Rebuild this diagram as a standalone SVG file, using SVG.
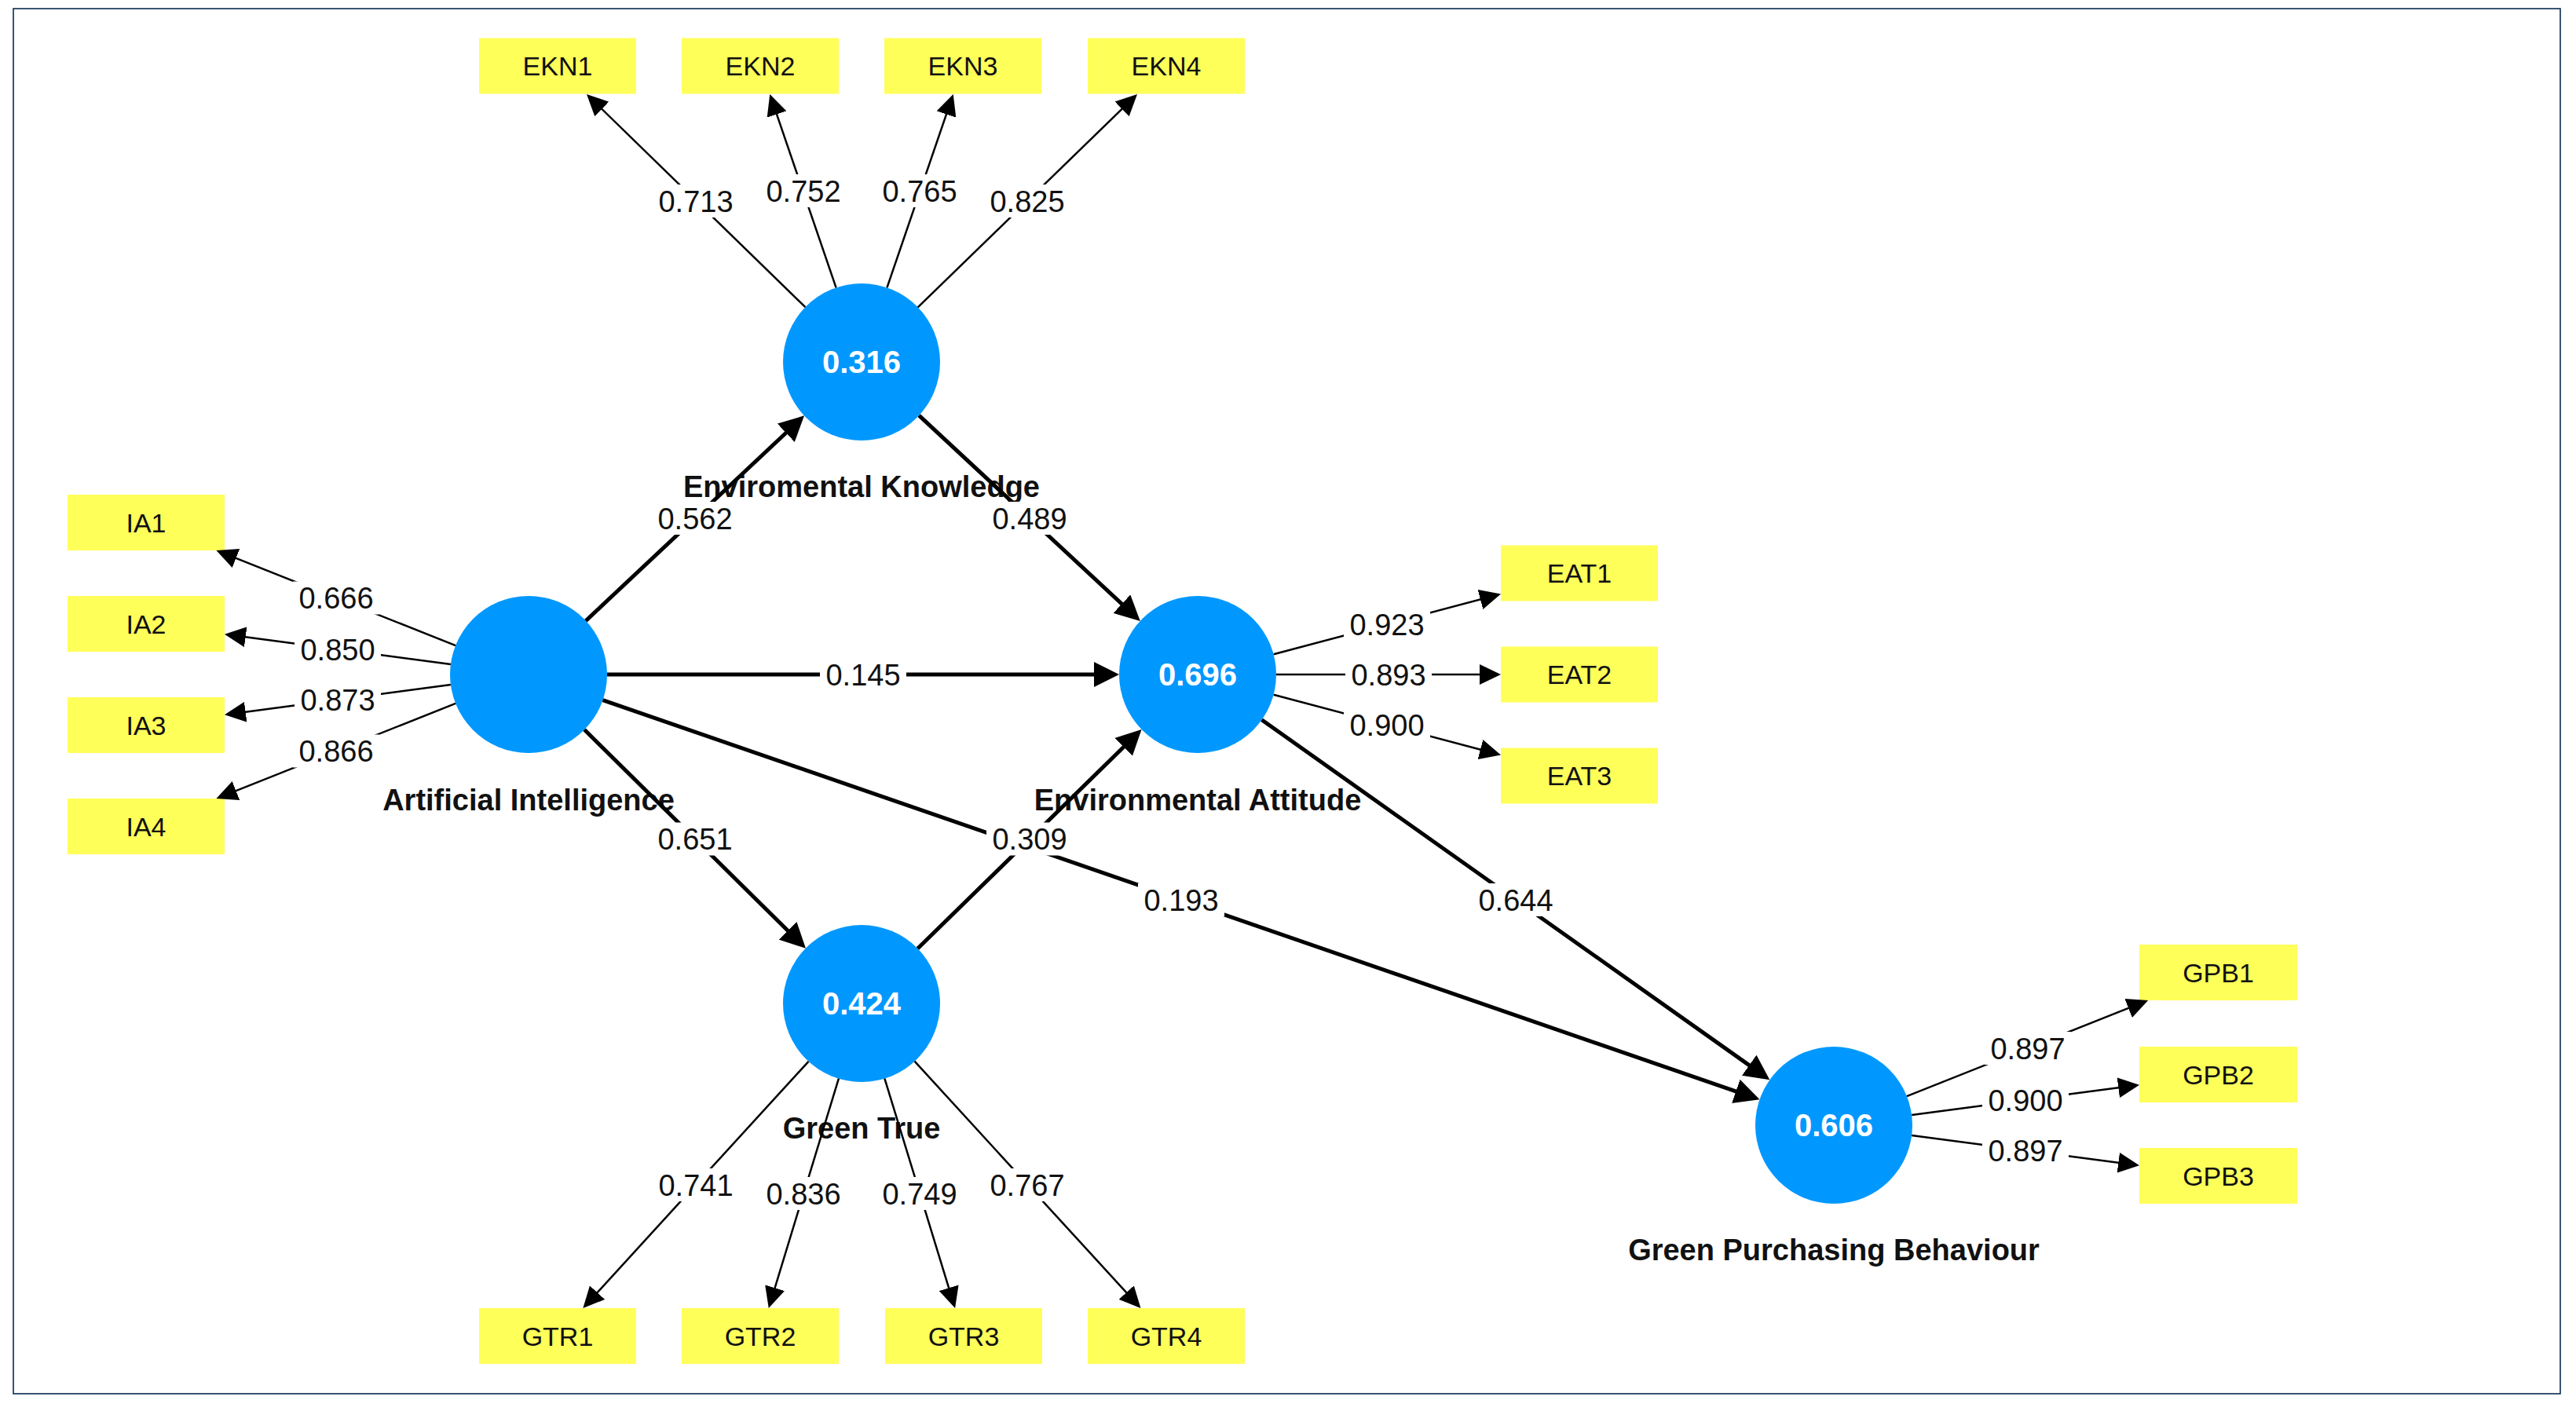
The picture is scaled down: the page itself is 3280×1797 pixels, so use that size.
<svg xmlns="http://www.w3.org/2000/svg" width="3280" height="1797" viewBox="0 0 3280 1797">
<defs>
<style>
.bg{fill:#ffffff}
.frame{fill:none;stroke:#0b2b52;stroke-width:1.6}
.lv{fill:#0098fe}
.lvv{font-family:"Liberation Sans",Arial,sans-serif;font-size:40px;font-weight:bold;fill:#ffffff;text-anchor:middle}
.lvn{font-family:"Liberation Sans",Arial,sans-serif;font-size:38px;font-weight:bold;fill:#111111;text-anchor:middle}
.ind{fill:#ffff5a}
.indt{font-family:"Liberation Sans",Arial,sans-serif;font-size:34px;fill:#111111;text-anchor:middle}
.path{stroke:#000;stroke-width:5;fill:none}
.load{stroke:#000;stroke-width:2.5;fill:none}
.pa{marker-end:url(#ah)}
.la{marker-end:url(#al)}
.lblbg{fill:#ffffff}
.lbl{font-family:"Liberation Sans",Arial,sans-serif;font-size:38px;fill:#111111;text-anchor:middle}
</style>
<marker id="ah" markerUnits="userSpaceOnUse" markerWidth="32" markerHeight="32" viewBox="0 0 32 32" refX="22" refY="16" orient="auto">
<path d="M0,0 L32,16 L0,32 Z" fill="#000"/>
</marker>
<marker id="al" markerUnits="userSpaceOnUse" markerWidth="27" markerHeight="26" viewBox="0 0 27 26" refX="21" refY="13" orient="auto">
<path d="M0,0 L27,13 L0,26 Z" fill="#000"/>
</marker>
</defs>
<rect class="bg" x="0" y="0" width="3280" height="1797"/>
<rect class="frame" x="17" y="11" width="3243" height="1764"/>

<g id="node-EK">
<circle class="lv" cx="1097" cy="461" r="100"/>
<text class="lvv" x="1097" y="475">0.316</text>
<text class="lvn" x="1097" y="633">Enviromental Knowledge</text>
</g>
<g id="node-AI">
<circle class="lv" cx="673" cy="859" r="100"/>
<text class="lvn" x="673" y="1032">Artificial Intelligence</text>
</g>
<g id="node-EA">
<circle class="lv" cx="1525" cy="859" r="100"/>
<text class="lvv" x="1525" y="873">0.696</text>
<text class="lvn" x="1525" y="1032">Environmental Attitude</text>
</g>
<g id="node-GT">
<circle class="lv" cx="1097" cy="1278" r="100"/>
<text class="lvv" x="1097" y="1292">0.424</text>
<text class="lvn" x="1097" y="1450">Green True</text>
</g>
<g id="node-GPB">
<circle class="lv" cx="2335" cy="1433" r="100"/>
<text class="lvv" x="2335" y="1447">0.606</text>
<text class="lvn" x="2335" y="1605">Green Purchasing Behaviour</text>
</g>

<g id="node-EKN1"><rect class="ind" x="610" y="48.5" width="200" height="71"/><text class="indt" x="710" y="96">EKN1</text></g>
<g id="node-EKN2"><rect class="ind" x="868" y="48.5" width="200" height="71"/><text class="indt" x="968" y="96">EKN2</text></g>
<g id="node-EKN3"><rect class="ind" x="1126" y="48.5" width="200" height="71"/><text class="indt" x="1226" y="96">EKN3</text></g>
<g id="node-EKN4"><rect class="ind" x="1385" y="48.5" width="200" height="71"/><text class="indt" x="1485" y="96">EKN4</text></g>

<g id="node-IA1"><rect class="ind" x="86" y="630" width="200" height="71"/><text class="indt" x="186" y="677.5">IA1</text></g>
<g id="node-IA2"><rect class="ind" x="86" y="759" width="200" height="71"/><text class="indt" x="186" y="806.5">IA2</text></g>
<g id="node-IA3"><rect class="ind" x="86" y="888" width="200" height="71"/><text class="indt" x="186" y="935.5">IA3</text></g>
<g id="node-IA4"><rect class="ind" x="86" y="1017" width="200" height="71"/><text class="indt" x="186" y="1064.5">IA4</text></g>

<g id="node-EAT1"><rect class="ind" x="1911" y="694.5" width="200" height="71"/><text class="indt" x="2011" y="742">EAT1</text></g>
<g id="node-EAT2"><rect class="ind" x="1911" y="823.5" width="200" height="71"/><text class="indt" x="2011" y="871">EAT2</text></g>
<g id="node-EAT3"><rect class="ind" x="1911" y="952.5" width="200" height="71"/><text class="indt" x="2011" y="1000">EAT3</text></g>

<g id="node-GTR1"><rect class="ind" x="610" y="1666" width="200" height="71"/><text class="indt" x="710" y="1713.5">GTR1</text></g>
<g id="node-GTR2"><rect class="ind" x="868" y="1666" width="200" height="71"/><text class="indt" x="968" y="1713.5">GTR2</text></g>
<g id="node-GTR3"><rect class="ind" x="1127" y="1666" width="200" height="71"/><text class="indt" x="1227" y="1713.5">GTR3</text></g>
<g id="node-GTR4"><rect class="ind" x="1385" y="1666" width="200" height="71"/><text class="indt" x="1485" y="1713.5">GTR4</text></g>

<g id="node-GPB1"><rect class="ind" x="2724" y="1203" width="201" height="71"/><text class="indt" x="2824.5" y="1250.5">GPB1</text></g>
<g id="node-GPB2"><rect class="ind" x="2724" y="1333" width="201" height="71"/><text class="indt" x="2824.5" y="1380.5">GPB2</text></g>
<g id="node-GPB3"><rect class="ind" x="2724" y="1462" width="201" height="71"/><text class="indt" x="2824.5" y="1509.5">GPB3</text></g>

<g id="connectors">
<line class="path pa" x1="745.9" y1="790.6" x2="1016.8" y2="536.2"/>
<line class="path pa" x1="1170.2" y1="529.1" x2="1444.5" y2="784.1"/>
<line class="path pa" x1="773" y1="859" x2="1415" y2="859"/>
<line class="path pa" x1="744.1" y1="929.3" x2="1018.8" y2="1200.7"/>
<line class="path pa" x1="1168.5" y1="1208" x2="1446.4" y2="936"/>
<line class="path pa" x1="767.5" y1="891.6" x2="2231.1" y2="1397.1"/>
<line class="path pa" x1="1606.6" y1="916.8" x2="2245.2" y2="1369.4"/>

<line class="load la" x1="1025.4" y1="391.2" x2="751.3" y2="124.2"/>
<line class="load la" x1="1064.6" y1="366.4" x2="982.2" y2="125.7"/>
<line class="load la" x1="1129.4" y1="366.4" x2="1211.8" y2="125.7"/>
<line class="load la" x1="1168.7" y1="391.3" x2="1443.7" y2="124.2"/>

<line class="load la" x1="580.1" y1="822.1" x2="281" y2="703.2"/>
<line class="load la" x1="573.9" y1="845.9" x2="291.9" y2="808.5"/>
<line class="load la" x1="573.9" y1="872.1" x2="291.9" y2="909.5"/>
<line class="load la" x1="580.1" y1="895.9" x2="281" y2="1014.8"/>

<line class="load la" x1="1621.7" y1="833.3" x2="1905.2" y2="758"/>
<line class="load la" x1="1625" y1="859" x2="1905" y2="859"/>
<line class="load la" x1="1621.7" y1="884.7" x2="1905.2" y2="960"/>

<line class="load la" x1="1029.5" y1="1351.8" x2="746.4" y2="1661.6"/>
<line class="load la" x1="1067.9" y1="1373.7" x2="980.5" y2="1660.3"/>
<line class="load la" x1="1126.4" y1="1373.6" x2="1214.3" y2="1660.3"/>
<line class="load la" x1="1164.6" y1="1351.7" x2="1448.4" y2="1661.6"/>

<line class="load la" x1="2427.9" y1="1396.1" x2="2729.6" y2="1276.2"/>
<line class="load la" x1="2434.2" y1="1419.9" x2="2718.1" y2="1382.5"/>
<line class="load la" x1="2434.2" y1="1446.1" x2="2718.1" y2="1483.5"/>

<g id="path-labels">
<rect class="lblbg" x="830" y="639" width="110" height="42"/><text class="lbl" x="885" y="673.5">0.562</text>
<rect class="lblbg" x="1256" y="639" width="110" height="42"/><text class="lbl" x="1311" y="673.5">0.489</text>
<rect class="lblbg" x="1044" y="838" width="110" height="42"/><text class="lbl" x="1099" y="872.5">0.145</text>
<rect class="lblbg" x="830" y="1047.5" width="110" height="42"/><text class="lbl" x="885" y="1082">0.651</text>
<rect class="lblbg" x="1256" y="1047.5" width="110" height="42"/><text class="lbl" x="1311" y="1082">0.309</text>
<rect class="lblbg" x="1449" y="1125" width="110" height="42"/><text class="lbl" x="1504" y="1159.5">0.193</text>
<rect class="lblbg" x="1875" y="1125" width="110" height="42"/><text class="lbl" x="1930" y="1159.5">0.644</text>
</g>
<g id="loading-labels">
<rect class="lblbg" x="831" y="235" width="110" height="42"/><text class="lbl" x="886" y="269.5">0.713</text>
<rect class="lblbg" x="968" y="222" width="110" height="42"/><text class="lbl" x="1023" y="256.5">0.752</text>
<rect class="lblbg" x="1116" y="222" width="110" height="42"/><text class="lbl" x="1171" y="256.5">0.765</text>
<rect class="lblbg" x="1253" y="235" width="110" height="42"/><text class="lbl" x="1308" y="269.5">0.825</text>

<rect class="lblbg" x="373" y="740.5" width="110" height="42"/><text class="lbl" x="428" y="775">0.666</text>
<rect class="lblbg" x="375" y="806" width="110" height="42"/><text class="lbl" x="430" y="840.5">0.850</text>
<rect class="lblbg" x="375" y="870" width="110" height="42"/><text class="lbl" x="430" y="904.5">0.873</text>
<rect class="lblbg" x="373" y="935.5" width="110" height="42"/><text class="lbl" x="428" y="970">0.866</text>

<rect class="lblbg" x="1711" y="774" width="110" height="42"/><text class="lbl" x="1766" y="808.5">0.923</text>
<rect class="lblbg" x="1713" y="838" width="110" height="42"/><text class="lbl" x="1768" y="872.5">0.893</text>
<rect class="lblbg" x="1711" y="902" width="110" height="42"/><text class="lbl" x="1766" y="936.5">0.900</text>

<rect class="lblbg" x="831" y="1488" width="110" height="42"/><text class="lbl" x="886" y="1522.5">0.741</text>
<rect class="lblbg" x="968" y="1499" width="110" height="42"/><text class="lbl" x="1023" y="1533.5">0.836</text>
<rect class="lblbg" x="1116" y="1499" width="110" height="42"/><text class="lbl" x="1171" y="1533.5">0.749</text>
<rect class="lblbg" x="1253" y="1488" width="110" height="42"/><text class="lbl" x="1308" y="1522.5">0.767</text>

<rect class="lblbg" x="2527" y="1314" width="110" height="42"/><text class="lbl" x="2582" y="1348.5">0.897</text>
<rect class="lblbg" x="2524" y="1380" width="110" height="42"/><text class="lbl" x="2579" y="1414.5">0.900</text>
<rect class="lblbg" x="2524" y="1444" width="110" height="42"/><text class="lbl" x="2579" y="1478.5">0.897</text>
</g>
</g>
</svg>
